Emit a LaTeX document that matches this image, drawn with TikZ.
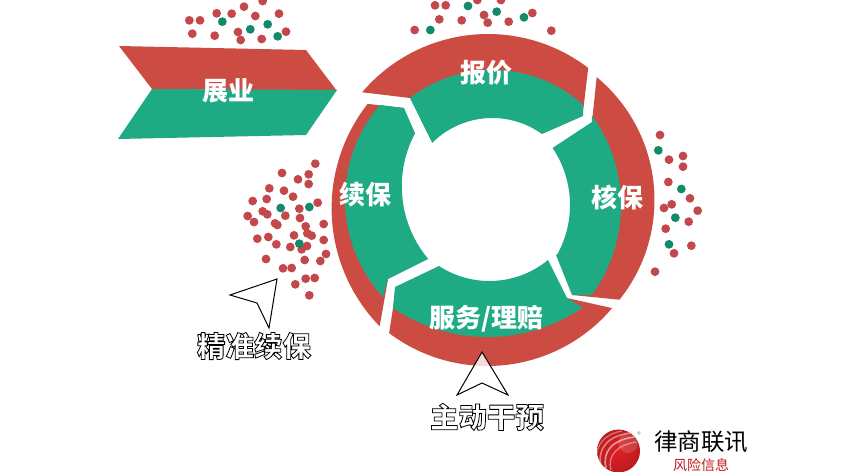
\documentclass[tikz,border=0pt]{standalone}
\usepackage{fontspec}
\newfontfamily\cjk{Noto Sans CJK SC}
\definecolor{ringred}{HTML}{CC4C43}
\definecolor{ringgreen}{HTML}{1EAB84}
\definecolor{dotred}{HTML}{C2484C}
\definecolor{dotgreen}{HTML}{128A6A}
\definecolor{logored}{HTML}{DE2024}
\newcommand{\outlined}[1]{\special{pdf:code q 2 Tr 0.8 w 0 0 0 RG}#1\special{pdf:code Q}}
\newcommand{\dotcloud}[4]{\foreach \u/\v in {#4}{\fill[#3] ({#1+\u/3},{#2+\v/3}) circle (4.4);}}
\tikzset{
  seglabel/.style={text=white,font=\cjk\bfseries\fontsize{26}{26}\selectfont,inner sep=0pt},
  outlabel/.style={text=white,font=\cjk\bfseries\fontsize{28.5}{28.5}\selectfont,inner sep=0pt},
  pointer/.style={draw=black,line width=1pt,line join=miter,fill=white,fill opacity=0.8},
  arcplot/.style={samples=60}
}
\begin{document}
\begin{tikzpicture}[x=1pt,y=-1pt]
\useasboundingbox (0,0) rectangle (866,471);
\clip (0,0) rectangle (866,471);
% chevron
\fill[ringred] (119,46) -- (306,50) -- (337,91) -- (152,89) -- cycle;
\fill[ringgreen] (152,89) -- (337,90) -- (306,135) -- (118,139) -- cycle;
% top segment
\fill[ringred] plot[arcplot,domain=-139.7:-52.6] ({488+165*cos(\x)},{199+165*sin(\x)}) -- (583,112) -- (500,95) -- (410,98) -- cycle;
\fill[ringgreen] plot[arcplot,domain=-127.6:-47.8] ({492.3+135*cos(\x)},{204.9+135*sin(\x)}) -- (583,116) -- (542,134) -- plot[arcplot,domain=-54.5:-135] ({492.3+85*cos(\x)},{203+85*sin(\x)}) -- cycle;
% right segment
\fill[ringred] plot[arcplot,domain=-50.4:38.7] ({495+159.5*cos(\x)},{200+159.5*sin(\x)}) -- (572,295) -- (592,122) -- cycle;
\fill[ringgreen] plot[arcplot,domain=-36:36] ({468+153*cos(\x)},{205+153*sin(\x)}) -- (572,295) -- (556,255) -- plot[arcplot,domain=29:-34] ({468+102*cos(\x)},{205+102*sin(\x)}) -- (592,122) -- cycle;
% bottom segment
\fill[ringred] plot[arcplot,domain=40.2:127] ({487.4+163.3*cos(\x)},{202.7+163.3*sin(\x)}) -- (395,295) -- (567,298) -- cycle;
\fill[ringgreen] plot[arcplot,domain=55.7:124.1] ({487.5+168.5*cos(\x)},{168.5+168.5*sin(\x)}) -- (395,287) -- (439,266) -- plot[arcplot,domain=123.1:50.5] ({489.4+92.2*cos(\x)},{188.8+92.2*sin(\x)}) -- (567,298) -- cycle;
% left segment
\fill[ringred] plot[arcplot,domain=218.1:135.7] ({500.7+169.1*cos(\x)},{208.2+169.1*sin(\x)}) -- (388,279) -- (404,108) -- cycle;
\fill[ringgreen] plot[arcplot,domain=220.7:137.5] ({489.6+144.6*cos(\x)},{199.3+144.6*sin(\x)}) -- (388,279) -- (428,259) -- plot[arcplot,domain=140:208] ({514.8+113*cos(\x)},{186.3+113*sin(\x)}) -- (404,108) -- cycle;
% dots
\dotcloud{100}{0}{dotred}{268/61,300/61,350/40,395/41,432/20,488/3,466/48,537/41,558/95,277/101,344/107,414/96,422/120,485/117}
\dotcloud{100}{0}{dotgreen}{367/65,451/88,503/73,533/109}
\dotcloud{400}{0}{dotred}{105/16,137/16,232/0,303/0,118/58,185/61,252/45,263/68,326/65,397/39,44/90,454/92}
\dotcloud{400}{0}{dotgreen}{204/18,290/35,372/52,91/90}
\dotcloud{630}{120}{dotred}{90/45,117/119,159/108,159/140,115/186,180/235,125/253,102/264,203/272,176/305,107/326,184/377,132/400,75/455}
\dotcloud{630}{120}{dotgreen}{85/91,154/207,136/293,117/373}
\dotcloud{180}{150}{dotred}{406/41,306/69,386/73,354/88,386/102,268/115,312/122,260/147,339/140,218/153,413/158,358/176,248/184,262/193,316/197,203/198,222/216,360/204,285/220,292/225,377/229,431/222,382/250,395/257,342/256,265/261,232/266,431/270,289/283,331/291,381/288,365/298,438/312,421/333,258/327,374/330,309/355,335/354,404/384,377/386,346/403,388/436}
\dotcloud{180}{150}{dotgreen}{302/174,388/171,358/281}
% pointers
\draw[pointer] (277,279) -- (230,295) -- (257,303) -- (269,328) -- cycle;
\draw[pointer] (482,352) -- (457,395) -- (482,383) -- (508,395) -- cycle;
% labels
\node[seglabel] (zhanye) at (228,91) {展业};
\node[seglabel] (baojia) at (486,73) {报价};
\node[seglabel] (xubao) at (365,195) {续保};
\node[seglabel] (hebao) at (617,197) {核保};
\node[seglabel] (fuwu) at (486,319) {服务/理赔};
\node[outlabel] (jingzhun) at (254,346) {\outlined{精准续保}};
\node[outlabel] (zhudong) at (487,417) {\outlined{主动干预}};
% logo
\shade[inner color=logored,outer color=logored!85!black] (618.5,451) circle (21.5);
\begin{scope}
\clip (618.5,451) circle (21.5);
\fill[white,opacity=0.15] (628,443) circle (10);
\draw[white,opacity=0.45,line width=1.6pt] (601,466) .. controls (597,448) and (608,436) .. (630,433);
\draw[white,opacity=0.55,line width=1.6pt] (606,468) .. controls (602,452) and (612,440) .. (634,437);
\draw[white,opacity=0.40,line width=1.4pt] (611,470) .. controls (607,456) and (617,445) .. (636,442);
\draw[white,opacity=0.35,line width=1.4pt] (597,460) .. controls (595,446) and (604,434) .. (622,431);
\end{scope}
\node[text=black!55,font=\cjk\fontsize{7}{7}\selectfont,inner sep=0pt] (reg) at (639,435) {®};
\node[text=black,font=\cjk\fontsize{23.5}{23.5}\selectfont,inner sep=0pt] (lvshang) at (701,442) {律商联讯};
\node[text=logored!85!black,font=\cjk\fontsize{14}{14}\selectfont,inner sep=0pt] (fengxian) at (701,465) {风险信息};
\end{tikzpicture}
\end{document}
